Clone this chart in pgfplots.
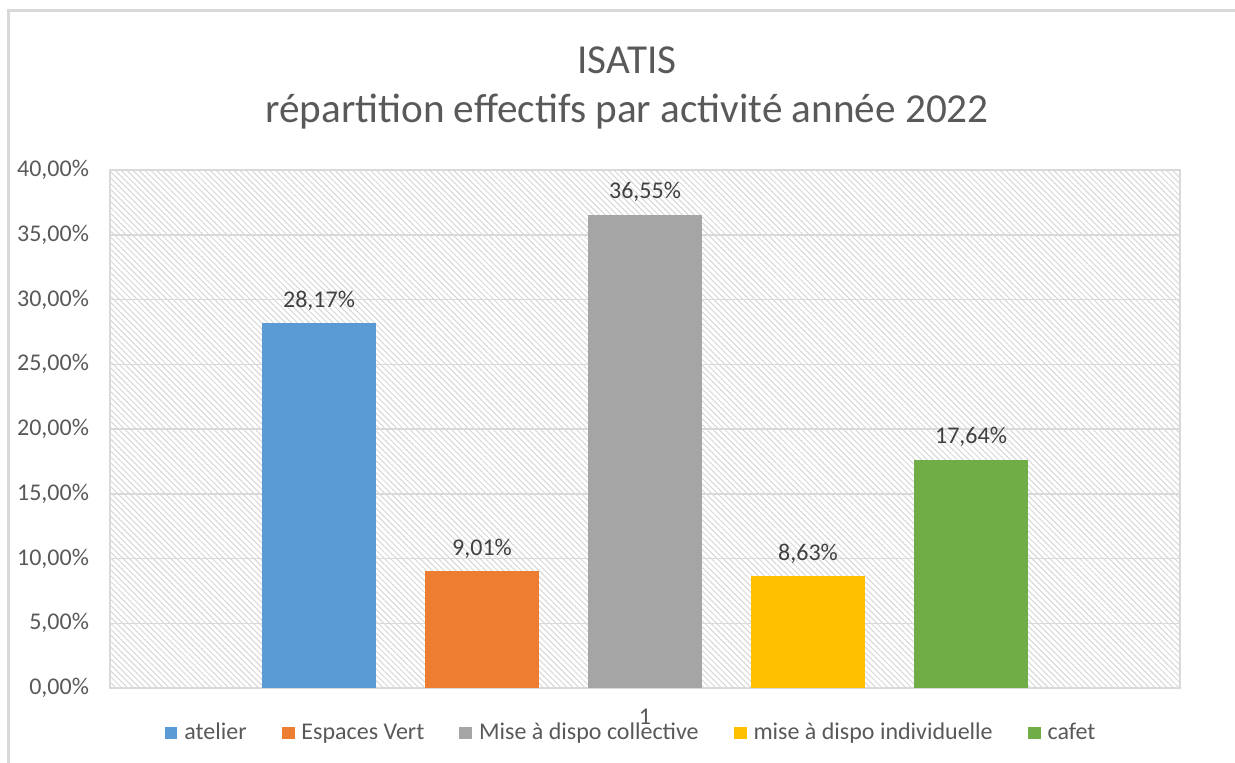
\documentclass[border=0pt]{standalone}
\usepackage{fontspec}
\setmainfont{Carlito}
\usepackage{pgfplots}
\pgfplotsset{compat=1.18}
\usetikzlibrary{patterns.meta}
\definecolor{txt}{HTML}{595959}
\definecolor{lbl}{HTML}{404040}
\definecolor{gridc}{HTML}{D9D9D9}
\definecolor{hatch}{HTML}{D6D6D6}
\definecolor{c1}{HTML}{5B9BD5}
\definecolor{c2}{HTML}{ED7D31}
\definecolor{c3}{HTML}{A5A5A5}
\definecolor{c4}{HTML}{FFC000}
\definecolor{c5}{HTML}{70AD47}
\begin{document}
\begin{tikzpicture}
\pgfplotsset{sq/.style={legend image code/.code={\fill[##1,draw=none] (0pt,-3.2pt) rectangle (6.4pt,3.2pt);}}}
\begin{axis}[
  scale only axis,
  width=535pt, height=259pt,
  at={(0,0)}, anchor=south west,
  ybar=24.5pt, bar width=57pt,
  xmin=0, xmax=2, ymin=0, ymax=40,
  xtick={1}, xticklabels={1},
  ytick={0,5,10,15,20,25,30,35,40},
  yticklabel={\pgfmathprintnumber[fixed,fixed zerofill,precision=2,use comma]{\tick}\%},
  /pgf/number format/assume math mode=true,
  major tick length=0pt,
  ymajorgrids, grid style={gridc, line width=0.75pt},
  axis line style={gridc, line width=0.75pt},
  axis background/.style={pattern={Lines[angle=-45,distance=2.1pt,line width=0.5pt]}, pattern color=hatch},
  tick label style={font=\fontsize{12}{14}\selectfont, text=txt},
  yticklabel style={xshift=-7pt},
  xticklabel style={yshift=-7pt},
  nodes near coords={\pgfmathprintnumber[fixed,fixed zerofill,precision=2,use comma]{\pgfplotspointmeta}\%},
  every node near coord/.append style={font=\fontsize{12}{14}\selectfont, text=lbl, yshift=3pt},
  legend columns=5,
  legend style={at={(axis description cs:0.4874,-0.087)}, anchor=center, draw=none, fill=none,
    font=\fontsize{12}{14}\selectfont, text=txt,
    /tikz/every odd column/.append style={column sep=2pt},
    /tikz/every even column/.append style={column sep=16pt},
    nodes={inner sep=1.5pt}},
]
\addplot[fill=c1, draw=none, sq] coordinates {(1,28.17)};
\addlegendentry{atelier}
\addplot[fill=c2, draw=none, sq] coordinates {(1,9.01)};
\addlegendentry{Espaces Vert}
\addplot[fill=c3, draw=none, sq] coordinates {(1,36.55)};
\addlegendentry{Mise à dispo collective}
\addplot[fill=c4, draw=none, sq] coordinates {(1,8.63)};
\addlegendentry{mise à dispo individuelle}
\addplot[fill=c5, draw=none, sq] coordinates {(1,17.64)};
\addlegendentry{cafet}
\end{axis}
\node[text=txt, font=\fontsize{20.6}{24}\selectfont] at (258.5pt,314pt) {ISATIS};
\node[text=txt, font=\fontsize{20.6}{24}\selectfont] at (258.5pt,288pt) {répartition effectifs par activité année 2022};
\draw[gridc, line width=1.5pt] (-50.5pt,-40pt) -- (-50.5pt,338.5pt) -- (570pt,338.5pt);
\pgfresetboundingbox
\path (-55pt,-37pt) rectangle (562.5pt,344pt);
\end{tikzpicture}
\end{document}
